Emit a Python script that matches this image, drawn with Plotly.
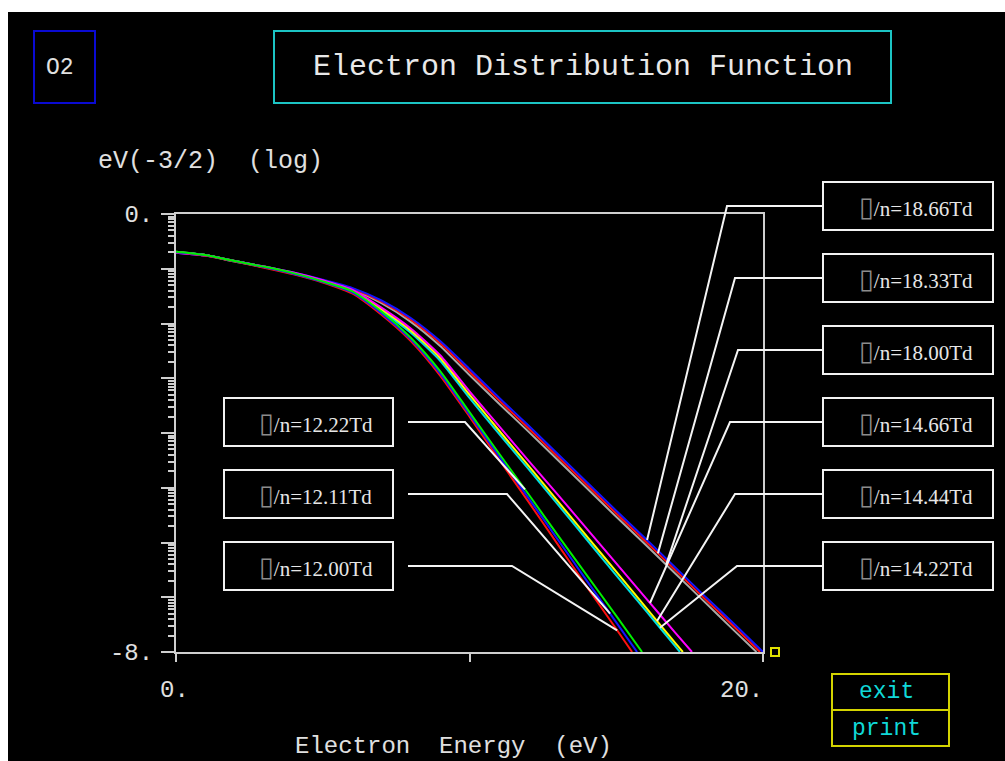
import plotly.graph_objects as go

# ---------------- data: log10 EEDF (eV^-3/2) vs electron energy (eV) ----------------
# E/N = 18.xx Td
e_18_66 = [0, 1, 2, 3, 4, 5, 6, 7, 8, 9, 10, 11, 12, 13, 14, 15, 16, 17, 18, 19, 20.0]
f_18_66 = [-0.71, -0.76, -0.86, -0.96, -1.07, -1.20, -1.35, -1.58, -1.90, -2.32, -2.83,
           -3.35, -3.86, -4.38, -4.90, -5.42, -5.93, -6.45, -6.97, -7.48, -8.00]
e_18_33 = [0, 1, 2, 3, 4, 5, 6, 7, 8, 9, 10, 11, 12, 13, 14, 15, 16, 17, 18, 19, 19.9]
f_18_33 = [-0.70, -0.75, -0.86, -0.96, -1.08, -1.21, -1.36, -1.60, -1.93, -2.36, -2.88,
           -3.40, -3.91, -4.43, -4.95, -5.47, -5.98, -6.50, -7.02, -7.53, -8.00]
e_18_00 = [0, 1, 2, 3, 4, 5, 6, 7, 8, 9, 10, 11, 12, 13, 14, 15, 16, 17, 18, 19, 19.78]
f_18_00 = [-0.69, -0.75, -0.86, -0.97, -1.08, -1.22, -1.38, -1.63, -1.97, -2.41, -2.94,
           -3.46, -3.97, -4.49, -5.01, -5.53, -6.04, -6.56, -7.08, -7.60, -8.00]

# E/N = 14.xx Td
e_14_66 = [0, 1, 2, 3, 4, 5, 6, 7, 8, 9, 10, 11, 12, 13, 14, 15, 16, 17, 17.58]
f_14_66 = [-0.71, -0.76, -0.86, -0.96, -1.07, -1.21, -1.38, -1.71, -2.09, -2.58, -3.24,
           -3.87, -4.50, -5.12, -5.75, -6.38, -7.01, -7.64, -8.00]
e_14_44 = [0, 1, 2, 3, 4, 5, 6, 7, 8, 9, 10, 11, 12, 13, 14, 15, 16, 17, 17.27]
f_14_44 = [-0.70, -0.75, -0.86, -0.97, -1.08, -1.22, -1.40, -1.74, -2.13, -2.63, -3.30,
           -3.95, -4.59, -5.24, -5.89, -6.53, -7.18, -7.83, -8.00]
e_14_22 = [0, 1, 2, 3, 4, 5, 6, 7, 8, 9, 10, 11, 12, 13, 14, 15, 16, 17, 17.17]
f_14_22 = [-0.70, -0.75, -0.87, -0.97, -1.09, -1.23, -1.42, -1.77, -2.17, -2.68, -3.36,
           -4.01, -4.65, -5.30, -5.95, -6.60, -7.24, -7.89, -8.00]

# E/N = 12.xx Td
e_12_22 = [0, 1, 2, 3, 4, 5, 6, 7, 8, 9, 10, 11, 12, 13, 14, 15, 15.88]
f_12_22 = [-0.69, -0.75, -0.86, -0.96, -1.08, -1.23, -1.41, -1.78, -2.26, -2.87, -3.62,
           -4.37, -5.11, -5.86, -6.60, -7.34, -8.00]
e_12_11 = [0, 1, 2, 3, 4, 5, 6, 7, 8, 9, 10, 11, 12, 13, 14, 15, 15.71]
f_12_11 = [-0.70, -0.75, -0.86, -0.97, -1.09, -1.24, -1.43, -1.81, -2.29, -2.91, -3.66,
           -4.42, -5.18, -5.94, -6.70, -7.46, -8.00]
e_12_00 = [0, 1, 2, 3, 4, 5, 6, 7, 8, 9, 10, 11, 12, 13, 14, 15, 15.54]
f_12_00 = [-0.70, -0.76, -0.87, -0.98, -1.10, -1.25, -1.45, -1.84, -2.32, -2.95, -3.70,
           -4.48, -5.25, -6.03, -6.81, -7.58, -8.00]

# curve label text (Td) and the energy on each curve that its leader line points to
label_names = ["18.66", "18.33", "18.00", "14.66", "14.44", "14.22", "12.22", "12.11", "12.00"]
label_energy = [16.05, 16.42, 16.70, 16.15, 16.39, 16.49, 11.89, 14.79, 15.03]

# axis tick labels
y_decades = [-8, -7, -6, -5, -4, -3, -2, -1, 0]
y_ticktext = ["-8.", "", "", "", "", "", "", "", "0."]
x_tickvals = [0, 10, 20]
x_ticktext = ["0.", "", "20."]

# ---------------- page geometry ----------------
W, H = 1005, 761
PL, PR, PT, PB = 176, 763, 214, 652          # plot area in pixels
X_RANGE = (0, 20)
Y_RANGE = (-8, 0)


def px(x):
    return (x - PL) / (PR - PL)


def py(y):
    return (PB - y) / (PB - PT)


def data_to_paper(e, logf):
    return ((e - X_RANGE[0]) / (X_RANGE[1] - X_RANGE[0]),
            (logf - Y_RANGE[0]) / (Y_RANGE[1] - Y_RANGE[0]))


def interp(xs, ys, x):
    for i in range(len(xs) - 1):
        if xs[i] <= x <= xs[i + 1]:
            t = (x - xs[i]) / (xs[i + 1] - xs[i])
            return ys[i] + t * (ys[i + 1] - ys[i])
    return ys[-1]


curves = {
    "18.00": (e_18_00, f_18_00, "#a8a8a8"),
    "18.33": (e_18_33, f_18_33, "#ff1010"),
    "18.66": (e_18_66, f_18_66, "#1414ff"),
    "14.22": (e_14_22, f_14_22, "#00e0e0"),
    "14.44": (e_14_44, f_14_44, "#ffff00"),
    "14.66": (e_14_66, f_14_66, "#ff00ff"),
    "12.00": (e_12_00, f_12_00, "#ff1010"),
    "12.11": (e_12_11, f_12_11, "#1414ff"),
    "12.22": (e_12_22, f_12_22, "#00f000"),
}

fig = go.Figure()
for name, (e, f, color) in curves.items():
    fig.add_trace(go.Scatter(
        x=e, y=[10 ** v for v in f], mode="lines",
        line=dict(color=color, width=2, shape="spline", smoothing=0.6),
        name=f"E/n={name}Td", showlegend=False, hoverinfo="skip"))

shapes = []
annotations = []

# black screen (white strip on top and left edges)
shapes.append(dict(type="rect", xref="paper", yref="paper", layer="below",
                   x0=px(8), x1=px(W + 5), y0=py(H + 5), y1=py(12),
                   fillcolor="black", line=dict(width=0)))

# gas box and title box
shapes.append(dict(type="rect", xref="paper", yref="paper",
                   x0=px(34), x1=px(95), y0=py(103), y1=py(31),
                   line=dict(color="#0a0ad2", width=2)))
annotations.append(dict(text="O2", xref="paper", yref="paper", x=px(60), y=py(68),
                        showarrow=False, xanchor="center", yanchor="middle",
                        font=dict(family="Liberation Mono", size=23, color="#e0e0e0")))
shapes.append(dict(type="rect", xref="paper", yref="paper",
                   x0=px(274), x1=px(891), y0=py(103), y1=py(31),
                   line=dict(color="#1cc4c4", width=2)))
annotations.append(dict(text="Electron Distribution Function", xref="paper", yref="paper",
                        x=px(583), y=py(67), showarrow=False, xanchor="center", yanchor="middle",
                        font=dict(family="Liberation Mono", size=30, color="#e8e8e8")))

# axis titles
annotations.append(dict(text="eV(-3/2)  (log)", xref="paper", yref="paper",
                        x=px(96), y=py(161), showarrow=False, xanchor="left", yanchor="middle",
                        font=dict(family="Liberation Mono", size=25, color="#e0e0e0")))
annotations.append(dict(text="Electron  Energy  (eV)", xref="paper", yref="paper",
                        x=px(453), y=py(746), showarrow=False, xanchor="center", yanchor="middle",
                        font=dict(family="Liberation Mono", size=24, color="#e0e0e0")))

# x tick labels
for xv, txt, shift in zip(x_tickvals, x_ticktext, [-2, 0, -22]):
    if txt:
        annotations.append(dict(text=txt, xref="x", yref="paper", x=xv, y=py(690),
                                xshift=shift, showarrow=False, xanchor="center", yanchor="middle",
                                font=dict(family="Liberation Mono", size=24, color="#e0e0e0")))

# curve labels with leader lines
right_tops = [182, 254, 326, 398, 470, 542]
right_knee = [727, 735, 738, 730, 735, 737]
left_tops = [398, 470, 542]
left_knee = [465, 507, 512]
BOX_H = 48

for i, (name, ea) in enumerate(zip(label_names, label_energy)):
    e, f, _ = curves[name]
    ax, ay = data_to_paper(ea, interp(e, f, ea))
    if i < 6:
        top = right_tops[i]
        x0b, x1b = 823, 993
        yc = top + BOX_H / 2
        path = (f"M {px(x0b)} {py(yc)} L {px(right_knee[i])} {py(yc)} L {ax} {ay}")
        tx = 857
    else:
        j = i - 6
        top = left_tops[j]
        x0b, x1b = 224, 393
        yc = top + BOX_H / 2
        path = (f"M {px(408)} {py(yc)} L {px(left_knee[j])} {py(yc)} L {ax} {ay}")
        tx = 257
    shapes.append(dict(type="rect", xref="paper", yref="paper",
                       x0=px(x0b), x1=px(x1b), y0=py(top + BOX_H), y1=py(top),
                       line=dict(color="#f2f2f2", width=2)))
    shapes.append(dict(type="path", xref="paper", yref="paper", path=path,
                       line=dict(color="#f4f4f4", width=2)))
    annotations.append(dict(
        text=(f'<span style="font-family:DejaVu Sans;font-size:27px;color:#8c8c8c">▯</span>'
              f'/n={name}Td'),
        xref="paper", yref="paper", x=px(tx), y=py(yc), showarrow=False,
        xanchor="left", yanchor="middle",
        font=dict(family="Liberation Serif", size=21, color="#e6e6e6")))

# small marker square next to the axis corner
shapes.append(dict(type="rect", xref="paper", yref="paper",
                   x0=px(771), x1=px(779), y0=py(656), y1=py(648),
                   line=dict(color="#e0e000", width=2)))

# exit / print buttons
shapes.append(dict(type="rect", xref="paper", yref="paper",
                   x0=px(832), x1=px(949), y0=py(746), y1=py(674),
                   line=dict(color="#d4d400", width=2)))
shapes.append(dict(type="line", xref="paper", yref="paper",
                   x0=px(832), x1=px(949), y0=py(710), y1=py(710),
                   line=dict(color="#d4d400", width=2)))
for txt, yc in [("exit", 692), ("print", 729)]:
    annotations.append(dict(text=txt, xref="paper", yref="paper", x=px(886), y=py(yc),
                            showarrow=False, xanchor="center", yanchor="middle",
                            font=dict(family="Liberation Mono", size=23, color="#10d8d8")))

axis_col = "#cfcfcf"
minor_vals = [k * 10.0 ** d for d in y_decades[:-1] for k in range(2, 10)]

fig.update_layout(
    width=W, height=H, autosize=False,
    margin=dict(l=PL, r=W - PR, t=PT, b=H - PB, pad=0),
    paper_bgcolor="white", plot_bgcolor="black",
    shapes=shapes, annotations=annotations, showlegend=False,
    xaxis=dict(range=list(X_RANGE), tickmode="array", tickvals=x_tickvals,
               showticklabels=False, ticks="outside", ticklen=8, tickwidth=2,
               tickcolor=axis_col, showline=True, linecolor=axis_col, linewidth=2,
               mirror=True, showgrid=False, zeroline=False),
    yaxis=dict(type="log", range=list(Y_RANGE), tickmode="array",
               tickvals=[10.0 ** d for d in y_decades], ticktext=y_ticktext,
               ticks="outside", ticklen=13, tickwidth=2, tickcolor=axis_col,
               ticklabelstandoff=3,
               tickfont=dict(family="Liberation Mono", size=24, color="#e0e0e0"),
               minor=dict(tickmode="array", tickvals=minor_vals, ticks="outside",
                          ticklen=6, tickwidth=2, tickcolor=axis_col, showgrid=False),
               showline=True, linecolor=axis_col, linewidth=2, mirror=True,
               showgrid=False, zeroline=False),
)

fig.write_html("out.html", config={"displayModeBar": False})
